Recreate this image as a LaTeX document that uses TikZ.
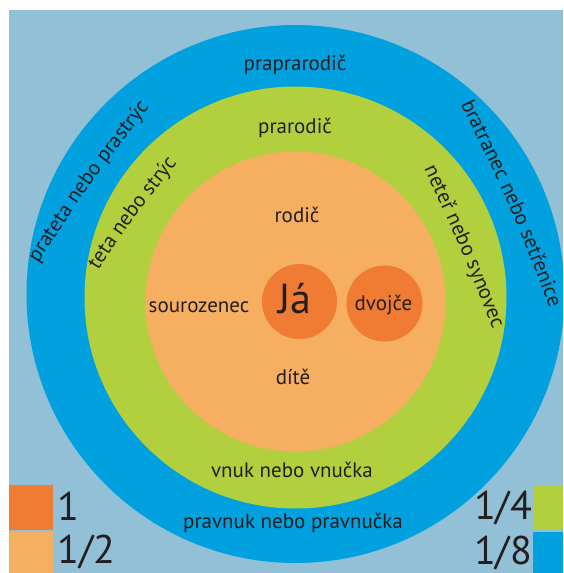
\documentclass[tikz,border=0pt]{standalone}
\usepackage{fontspec}
\setmainfont{PT Sans}
\usetikzlibrary{decorations.text}
\definecolor{bgblue}{RGB}{146,192,214}
\definecolor{ringblue}{RGB}{0,161,222}
\definecolor{ringgreen}{RGB}{178,208,62}
\definecolor{lorange}{RGB}{246,174,96}
\definecolor{dorange}{RGB}{239,124,50}
\definecolor{txt}{RGB}{35,31,32}
\newcommand\ringtextfont{\color{txt}\fontsize{21}{25}\selectfont}
\begin{document}
\begin{tikzpicture}[x=1pt,y=-1pt,
  lbl/.style={text=txt, font=\fontsize{21}{25}\selectfont, inner sep=0pt, anchor=base},
  big/.style={text=txt, font=\fontsize{40}{48}\selectfont, inner sep=0pt},
  selfcircle/.style={circle, fill=dorange, inner sep=0pt, minimum size=75pt},
  ringtext/.style={decorate, decoration={text along path, text align=center, text={|\ringtextfont|#1}}}
]
\useasboundingbox (0,0) rectangle (563,573);
\begin{scope}
  \clip (9,10) rectangle (563,573);
  \fill[bgblue] (9,10) rectangle (563,573);
  \fill[ringblue] (295.5,294) circle[radius=269pt];
  \fill[ringgreen] (295.5,297.5) circle[radius=211pt];
  \fill[lorange] (295.5,301.5) circle[radius=150pt];
\end{scope}
\node[selfcircle] (ja) at (299.5,301.5) {};
\node[selfcircle, minimum size=76pt] (twin) at (384.5,303.5) {};

\node[lbl] (pprar) at (295,70) {praprarodič};
\node[lbl] (prar) at (295,133) {prarodič};
\node[lbl] (rodic) at (297,222) {rodič};
\node[lbl] (dite) at (293,384) {dítě};
\node[lbl] (souroz) at (199,312) {sourozenec};
\node[lbl] (dvojce) at (383.5,310) {dvojče};
\node[lbl] (vnuk) at (292,477) {vnuk nebo vnučka};
\node[lbl] (pravnuk) at (293,528) {pravnuk nebo pravnučka};
\node[big, font=\fontsize{42}{50}\selectfont, anchor=base] (jatext) at (295,313) {Já};

\path[ringtext={prateta nebo prastrýc}] (20.8,290.6) .. controls (89.7,182.5) .. (169.2,82.4);
\path[ringtext={teta nebo strýc}] (79.3,299.2) .. controls (134.7,214.8) .. (198.7,136.8);
\path[ringtext={bratranec nebo setřenice}] (447.4,77.4) .. controls (510.1,204.3) .. (560.4,336.6);
\path[ringtext={neteř nebo synovec}] (410.7,140.2) .. controls (461.1,247.9) .. (504.1,358.8);

\fill[dorange] (9,485) rectangle (53,530);
\fill[lorange] (9,532) rectangle (53,573);
\fill[ringgreen] (533,485) rectangle (563,529);
\fill[ringblue] (533,532) rectangle (563,573);
\node[big, anchor=base west] (one) at (57,520) {1};
\node[big, anchor=base west] (half) at (57,563) {1/2};
\node[big, anchor=base east] (quarter) at (532,519) {1/4};
\node[big, anchor=base east] (eighth) at (532,564) {1/8};
\end{tikzpicture}
\end{document}
